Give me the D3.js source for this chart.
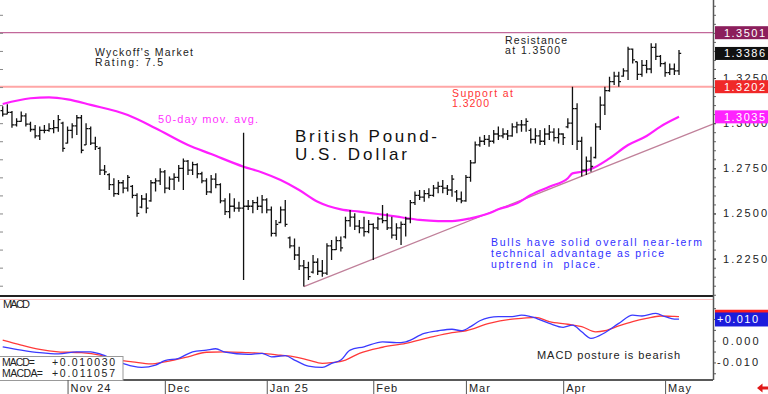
<!DOCTYPE html>
<html>
<head>
<meta charset="utf-8">
<script src="https://cdn.jsdelivr.net/npm/d3@7"></script>
<style>
	body { margin: 0; background: #fff; }
	text { font-family: "Liberation Sans", Arial, sans-serif; white-space: pre; }
</style>
</head>
<body>
<div id="chart"></div>
<script>
// daily GBP/USD bars, mid Oct 2024 .. early May 2025
var opens = [
	1.3070,1.3050,1.3060,1.2990,1.3010,1.3040,1.2995,1.2965,1.2930,1.2960,
	1.2960,1.2970,1.2975,1.3000,1.2890,1.2960,1.2985,1.3030,1.2880,1.2970,
	1.2890,1.2860,1.2740,1.2715,1.2660,1.2610,1.2670,1.2640,1.2650,1.2600,
	1.2535,1.2580,1.2570,1.2670,1.2680,1.2730,1.2640,1.2690,1.2700,1.2750,
	1.2790,1.2740,1.2770,1.2720,1.2680,1.2620,1.2690,1.2660,1.2570,1.2510,
	1.2540,1.2530,1.2530,1.2540,1.2540,1.2560,1.2540,1.2575,1.2520,1.2390,
	1.2450,1.2520,1.2365,1.2320,1.2270,1.2210,1.2200,1.2175,1.2230,1.2180,
	1.2170,1.2320,1.2300,1.2350,1.2370,1.2460,1.2480,1.2430,1.2420,1.2400,
	1.2440,1.2420,1.2470,1.2460,1.2420,1.2380,1.2420,1.2440,1.2470,1.2560,
	1.2600,1.2590,1.2610,1.2600,1.2640,1.2650,1.2640,1.2630,1.2620,1.2580,
	1.2570,1.2700,1.2780,1.2880,1.2900,1.2910,1.2900,1.2940,1.2930,1.2940,
	1.2930,1.2980,1.2990,1.2990,1.2960,1.2910,1.2930,1.2900,1.2940,1.2950,
	1.2920,1.2940,1.2980,1.3000,1.3080,1.2900,1.2740,1.2790,1.2810,1.2980,
	1.3100,1.3180,1.3230,1.3260,1.3260,1.3290,1.3410,1.3340,1.3270,1.3320,
	1.3300,1.3420,1.3370,1.3330,1.3280,1.3300,1.3290
];
var highs = [
	1.3093,1.3105,1.3067,1.3027,1.3064,1.3055,1.3008,1.2990,1.2981,1.2990,
	1.2999,1.3018,1.3045,1.3008,1.2981,1.2999,1.3045,1.3045,1.2999,1.2981,
	1.2925,1.2870,1.2768,1.2722,1.2695,1.2685,1.2685,1.2713,1.2658,1.2612,
	1.2602,1.2612,1.2685,1.2695,1.2750,1.2741,1.2704,1.2722,1.2768,1.2805,
	1.2796,1.2787,1.2778,1.2731,1.2695,1.2713,1.2722,1.2667,1.2584,1.2612,
	1.2584,1.2565,1.2947,1.2575,1.2575,1.2593,1.2602,1.2584,1.2539,1.2464,
	1.2539,1.2575,1.2373,1.2362,1.2316,1.2242,1.2233,1.2270,1.2252,1.2242,
	1.2335,1.2353,1.2373,1.2373,1.2482,1.2519,1.2501,1.2464,1.2482,1.2464,
	1.2446,1.2482,1.2547,1.2501,1.2482,1.2446,1.2455,1.2482,1.2575,1.2621,
	1.2630,1.2630,1.2639,1.2658,1.2676,1.2685,1.2658,1.2713,1.2630,1.2621,
	1.2713,1.2796,1.2898,1.2925,1.2935,1.2935,1.2962,1.2981,1.2972,1.2962,
	1.2999,1.3008,1.3018,1.3027,1.2972,1.2972,1.2962,1.2972,1.2990,1.2972,
	1.2972,1.2944,1.3027,1.3202,1.3110,1.2925,1.2815,1.2870,1.2999,1.3147,
	1.3202,1.3257,1.3285,1.3285,1.3304,1.3423,1.3414,1.3340,1.3350,1.3350,
	1.3442,1.3442,1.3377,1.3340,1.3331,1.3331,1.3405
];
var lows = [
	1.3037,1.3049,1.2975,1.2981,1.3008,1.2981,1.2953,1.2916,1.2907,1.2944,
	1.2953,1.2944,1.2953,1.2842,1.2888,1.2916,1.2935,1.2833,1.2879,1.2879,
	1.2852,1.2713,1.2713,1.2630,1.2593,1.2602,1.2612,1.2621,1.2584,1.2482,
	1.2529,1.2501,1.2565,1.2621,1.2658,1.2612,1.2630,1.2630,1.2676,1.2630,
	1.2713,1.2713,1.2695,1.2667,1.2602,1.2612,1.2639,1.2556,1.2492,1.2473,
	1.2510,1.2510,1.2131,1.2519,1.2501,1.2519,1.2501,1.2501,1.2373,1.2373,
	1.2446,1.2427,1.2307,1.2242,1.2187,1.2095,1.2131,1.2168,1.2159,1.2150,
	1.2159,1.2242,1.2298,1.2289,1.2362,1.2427,1.2409,1.2390,1.2373,1.2390,
	1.2242,1.2409,1.2446,1.2409,1.2362,1.2353,1.2325,1.2373,1.2446,1.2547,
	1.2575,1.2565,1.2584,1.2593,1.2612,1.2612,1.2602,1.2593,1.2565,1.2556,
	1.2565,1.2676,1.2778,1.2870,1.2879,1.2870,1.2888,1.2907,1.2916,1.2907,
	1.2925,1.2944,1.2953,1.2953,1.2888,1.2888,1.2879,1.2879,1.2907,1.2898,
	1.2888,1.2879,1.2972,1.2879,1.2852,1.2704,1.2713,1.2731,1.2805,1.2962,
	1.3045,1.3174,1.3211,1.3202,1.3257,1.3239,1.3331,1.3239,1.3257,1.3276,
	1.3276,1.3350,1.3313,1.3257,1.3267,1.3267,1.3267
];
var closes = [
	1.3050,1.3060,1.2990,1.3010,1.3040,1.2995,1.2965,1.2930,1.2960,1.2960,
	1.2970,1.2975,1.3020,1.2860,1.2960,1.2985,1.3030,1.2850,1.2970,1.2890,
	1.2870,1.2740,1.2730,1.2660,1.2610,1.2670,1.2640,1.2700,1.2600,1.2500,
	1.2580,1.2530,1.2670,1.2680,1.2730,1.2640,1.2690,1.2700,1.2750,1.2790,
	1.2740,1.2770,1.2720,1.2680,1.2620,1.2690,1.2660,1.2570,1.2510,1.2540,
	1.2530,1.2530,1.2540,1.2540,1.2560,1.2540,1.2575,1.2520,1.2390,1.2440,
	1.2520,1.2440,1.2320,1.2270,1.2210,1.2200,1.2150,1.2230,1.2180,1.2170,
	1.2320,1.2300,1.2350,1.2310,1.2460,1.2480,1.2430,1.2420,1.2400,1.2440,
	1.2420,1.2470,1.2460,1.2420,1.2380,1.2420,1.2440,1.2470,1.2560,1.2600,
	1.2590,1.2610,1.2600,1.2640,1.2650,1.2640,1.2630,1.2690,1.2580,1.2570,
	1.2700,1.2780,1.2880,1.2900,1.2910,1.2900,1.2940,1.2930,1.2940,1.2930,
	1.2980,1.2990,1.2990,1.3010,1.2910,1.2930,1.2900,1.2940,1.2950,1.2920,
	1.2940,1.2920,1.3000,1.3080,1.2900,1.2740,1.2790,1.2760,1.2980,1.3100,
	1.3180,1.3230,1.3260,1.3230,1.3290,1.3410,1.3350,1.3270,1.3320,1.3300,
	1.3420,1.3370,1.3330,1.3280,1.3300,1.3290,1.3386
];

// 50-day moving average, [bar index, value]
var maPoints = [
	[0,1.3106],[6,1.3138],[10,1.3143],[14,1.3132],[19,1.3101],[27,1.3045],[33,1.2972],
	[40,1.2879],[45,1.2829],[52,1.2759],[56,1.2727],[60,1.2685],[64,1.2630],[68,1.2565],
	[73,1.2523],[77,1.2510],[81,1.2497],[86,1.2479],[90,1.2464],[94,1.2458],[97,1.2458],
	[101,1.2473],[105,1.2501],[107,1.2523],[111,1.2556],[114,1.2602],[118,1.2648],
	[122,1.2695],[123,1.2722],[125,1.2731],[127,1.2746],[131,1.2805],[135,1.2879],
	[139,1.2929],[142,1.2981],[146,1.3035]
];

// uptrend line from the January low
var trendPoints = [[65,1.2095],[153.3,1.2995]];

var macdPoints = [
	[0,-0.0028],[4,-0.0043],[8,-0.0055],[12,-0.0061],[16,-0.0051],[19,-0.0051],[21,-0.0061],
	[25,-0.0097],[28,-0.0117],[30,-0.0123],[33,-0.0112],[35,-0.0092],[38,-0.0081],[41,-0.0051],
	[44,-0.0043],[46,-0.0037],[48,-0.0053],[53,-0.0063],[56,-0.0058],[58,-0.0074],[61,-0.0069],
	[63,-0.0089],[66,-0.0117],[69,-0.0123],[71,-0.0104],[73,-0.0089],[75,-0.0043],[78,-0.0028],
	[82,-0.0005],[85,-0.0009],[87,-0.0005],[91,0.0034],[94,0.0046],[97,0.0053],[99,0.0046],
	[101,0.0065],[103,0.0092],[107,0.0111],[110,0.0111],[112,0.0118],[114,0.0111],[118,0.0080],
	[121,0.0062],[123,0.0072],[125,0.0041],[127,0.0011],[130,0.0037],[133,0.0080],[136,0.0118],
	[138,0.0114],[141,0.0126],[143,0.0111],[145,0.0100],[146,0.0100]
];
var signalPoints = [
	[0,0.0003],[4,-0.0020],[8,-0.0040],[12,-0.0051],[17,-0.0055],[21,-0.0066],[25,-0.0089],
	[28,-0.0097],[32,-0.0107],[35,-0.0097],[40,-0.0074],[44,-0.0053],[48,-0.0051],[53,-0.0055],
	[56,-0.0058],[60,-0.0067],[63,-0.0074],[66,-0.0089],[69,-0.0104],[71,-0.0101],[74,-0.0089],
	[77,-0.0058],[82,-0.0030],[87,-0.0012],[92,0.0014],[97,0.0037],[100,0.0046],[105,0.0080],
	[110,0.0100],[112,0.0103],[115,0.0108],[118,0.0088],[122,0.0076],[125,0.0065],[128,0.0041],
	[130,0.0046],[133,0.0068],[136,0.0088],[139,0.0103],[142,0.0114],[145,0.0112],[146,0.0111]
];

var priceTicks = [1.2250, 1.2500, 1.2750, 1.3000, 1.3250];
var macdTicks = [-0.010, 0.000];
var monthLabels = ["Nov 24", "Dec", "Jan 25", "Feb", "Mar", "Apr", "May"];
var monthIndex = [14, 35, 57, 80, 100, 121, 143];

var resistance = 1.3501, support = 1.3202, lastClose = 1.3386, lastMa = 1.3035;
var lastMacd = 0.010030, lastMacda = 0.011057;

var plotRight = 713, priceBottom = 296, macdBottom = 380;

var svg = d3.select("#chart").append("svg")
	.attr("width", 768)
	.attr("height", 394);
svg.append("rect").attr("width", 768).attr("height", 394).attr("fill", "#fff");

var x = d3.scaleLinear().domain([0, closes.length - 1]).range([2.7, 679]);
var y = d3.scaleLinear().domain([1.2043, 1.3682]).range([priceBottom, 0]);
var yM = d3.scaleLinear().domain([-0.0181, 0.0197]).range([macdBottom, 298]);

svg.append("clipPath").attr("id", "priceClip")
	.append("rect").attr("x", 0).attr("y", 0).attr("width", plotRight).attr("height", priceBottom);

function addText(g, str, px, py, color, size, width) {
	var t = g.append("text")
		.attr("x", px)
		.attr("y", py)
		.attr("fill", color)
		.attr("font-size", size)
		.text(str);
	if(width) {
		t.attr("textLength", width).attr("lengthAdjust", "spacing");
	}
	return t;
}

// horizontal reference lines
svg.append("line")
	.attr("x1", 0).attr("x2", plotRight)
	.attr("y1", y(resistance)).attr("y2", y(resistance))
	.attr("stroke", "#c2689a").attr("stroke-width", 1.2);
svg.append("line")
	.attr("x1", 0).attr("x2", plotRight)
	.attr("y1", y(support)).attr("y2", y(support))
	.attr("stroke", "#ffa6a6").attr("stroke-width", 2);

var priceG = svg.append("g").attr("clip-path", "url(#priceClip)");

// trendline
priceG.append("path")
	.datum(trendPoints)
	.attr("fill", "none")
	.attr("stroke", "#c0809a")
	.attr("stroke-width", 1.3)
	.attr("d", d3.line().x(function(d) { return x(d[0]); }).y(function(d) { return y(d[1]); }));

// moving average
priceG.append("path")
	.datum(maPoints)
	.attr("fill", "none")
	.attr("stroke", "#ff1eff")
	.attr("stroke-width", 2.2)
	.attr("d", d3.line().curve(d3.curveMonotoneX)
		.x(function(d) { return x(d[0]); })
		.y(function(d) { return y(d[1]); }));

// OHLC bars
priceG.selectAll("path.bar")
	.data(closes)
	.enter()
	.append("path")
	.attr("class", "bar")
	.attr("fill", "none")
	.attr("stroke", "#111")
	.attr("stroke-width", 1.3)
	.attr("d", function(c, i) {
		var bx = x(i);
		return "M" + bx + "," + y(highs[i]) + "V" + y(lows[i]) +
			"M" + (bx - 2.2) + "," + y(opens[i]) + "H" + bx +
			"M" + bx + "," + y(c) + "H" + (bx + 2.2);
	});

// chart annotations
addText(svg, "Wyckoff's Market", 95, 56, "#222", 10.5, 98);
addText(svg, "Rating: 7.5", 95, 66, "#222", 10.5, 68);
addText(svg, "Resistance", 505, 43.5, "#222", 10.5, 62);
addText(svg, "at 1.3500", 505, 54, "#222", 10.5, 55);
addText(svg, "Support at", 452, 97, "#ff3535", 10.5, 61);
addText(svg, "1.3200", 452, 107, "#ff3535", 10.5, 37);
addText(svg, "50-day mov. avg.", 158, 123, "#ff33ff", 11, 100);
addText(svg, "British Pound-", 295, 142, "#111", 17, 142);
addText(svg, "U.S. Dollar", 295, 160, "#111", 17, 112);
addText(svg, "Bulls have solid overall near-term", 491, 246, "#3030ff", 10.5, 211);
addText(svg, "technical advantage as price", 491, 257, "#3030ff", 10.5, 173);
addText(svg, "uptrend in  place.", 491, 268, "#3030ff", 10.5, 109);

// right price axis
var axisG = svg.append("g").attr("transform", "translate(" + plotRight + ",0)");
axisG.append("g")
	.call(d3.axisRight(y).tickValues(d3.range(1.205, 1.366, 0.005)).tickSize(3).tickFormat(""))
	.call(function(g) { g.select(".domain").remove(); })
	.selectAll("line").attr("stroke", "#666");
axisG.append("g")
	.call(d3.axisRight(y).tickValues(priceTicks).tickSize(3).tickPadding(7).tickFormat(d3.format(".4f")))
	.call(function(g) { g.select(".domain").remove(); })
	.call(function(g) {
		g.selectAll("line").attr("stroke", "#444");
		g.selectAll("text")
			.attr("fill", "#222")
			.attr("font-size", 11)
			.attr("font-family", "Liberation Sans, Arial, sans-serif")
			.attr("textLength", 44)
			.attr("lengthAdjust", "spacing");
	});

// left edge ticks
svg.append("g")
	.call(d3.axisRight(y).tickValues(d3.range(1.21, 1.366, 0.01)).tickSize(3).tickFormat(""))
	.call(function(g) { g.select(".domain").remove(); })
	.selectAll("line").attr("stroke", "#888");

// value boxes on the price axis
var boxes = [
	{v: resistance, fill: "#8c1f5c"},
	{v: lastClose, fill: "#111"},
	{v: support, fill: "#f02828"},
	{v: lastMa, fill: "#ff22ff"}
];
boxes.forEach(function(b) {
	svg.append("rect")
		.attr("x", plotRight + 2).attr("y", y(b.v) - 6.5)
		.attr("width", 768 - plotRight - 2).attr("height", 13)
		.attr("fill", b.fill);
	addText(svg, b.v.toFixed(4), 724, y(b.v) + 4, "#fff", 11, 41);
});

// panel frame lines
svg.append("line")
	.attr("x1", 0).attr("x2", plotRight)
	.attr("y1", priceBottom).attr("y2", priceBottom)
	.attr("stroke", "#222").attr("stroke-width", 2);
svg.append("line")
	.attr("x1", 0).attr("x2", plotRight)
	.attr("y1", 299.5).attr("y2", 299.5)
	.attr("stroke", "#ffc0c0").attr("stroke-width", 1);
svg.append("line")
	.attr("x1", 0).attr("x2", plotRight)
	.attr("y1", macdBottom).attr("y2", macdBottom)
	.attr("stroke", "#222").attr("stroke-width", 1.5);
svg.append("line")
	.attr("x1", plotRight + 0.5).attr("x2", plotRight + 0.5)
	.attr("y1", 0).attr("y2", macdBottom)
	.attr("stroke", "#555").attr("stroke-width", 1.5);

// MACD panel
var macdLine = d3.line().curve(d3.curveMonotoneX)
	.x(function(d) { return x(d[0]); })
	.y(function(d) { return yM(d[1]); });
svg.append("path")
	.datum(signalPoints)
	.attr("fill", "none").attr("stroke", "#ff3a3a").attr("stroke-width", 1.3)
	.attr("d", macdLine);
svg.append("path")
	.datum(macdPoints)
	.attr("fill", "none").attr("stroke", "#3a3aff").attr("stroke-width", 1.3)
	.attr("d", macdLine);

addText(svg, "MACD", 3, 307.5, "#222", 11, 27);
addText(svg, "MACD posture is bearish", 537, 358.5, "#222", 11, 143);

svg.append("g")
	.attr("transform", "translate(" + plotRight + ",0)")
	.call(d3.axisRight(yM).tickValues(d3.range(-0.015, 0.0196, 0.005)).tickSize(3).tickFormat(""))
	.call(function(g) { g.select(".domain").remove(); })
	.selectAll("line").attr("stroke", "#555");

addText(svg, "0.000", 722.5, yM(macdTicks[1]) + 4, "#222", 11, 36);
addText(svg, "-0.010", 717, yM(macdTicks[0]) + 4, "#222", 11, 41);

svg.append("rect")
	.attr("x", plotRight + 2).attr("y", yM(lastMacda) - 7)
	.attr("width", 768 - plotRight - 2).attr("height", 14)
	.attr("fill", "#ff2020");
svg.append("rect")
	.attr("x", plotRight + 2).attr("y", yM(lastMacd) - 6.5)
	.attr("width", 768 - plotRight - 2).attr("height", 14)
	.attr("fill", "#1c1cdc");
addText(svg, "+0.010", 717, yM(lastMacd) + 4.5, "#fff", 11, 41);

// MACD readout box
var readout = svg.append("g");
readout.append("rect")
	.attr("x", -1).attr("y", 356.5)
	.attr("width", 124).attr("height", 24)
	.attr("fill", "#fff").attr("stroke", "#999");
addText(readout, "MACD=", 2, 365.5, "#222", 10.5, 33);
addText(readout, "+" + lastMacd.toFixed(6), 52, 365.5, "#222", 10.5, 63);
addText(readout, "MACDA=", 2, 377, "#222", 10.5, 41);
addText(readout, "+" + lastMacda.toFixed(6), 52, 377, "#222", 10.5, 63);

// month axis
svg.append("g")
	.attr("transform", "translate(0," + macdBottom + ")")
	.call(d3.axisBottom(x).tickValues(monthIndex).tickSize(14)
		.tickFormat(function(d, i) { return monthLabels[i]; }))
	.call(function(g) {
		g.select(".domain").remove();
		g.selectAll("line").attr("stroke", "#555");
		g.selectAll("text")
			.attr("text-anchor", "start")
			.attr("x", 2.5)
			.attr("y", 12)
			.attr("dy", null)
			.attr("fill", "#222")
			.attr("font-size", 11)
			.attr("font-family", "Liberation Sans, Arial, sans-serif")
			.attr("letter-spacing", 1);
	});

// red arrow bottom right
svg.append("path")
	.attr("d", "M757,388 L762.5,383.5 V386.5 H768 V389.5 H762.5 V392.5 Z")
	.attr("fill", "#e01818");
</script>
</body>
</html>
